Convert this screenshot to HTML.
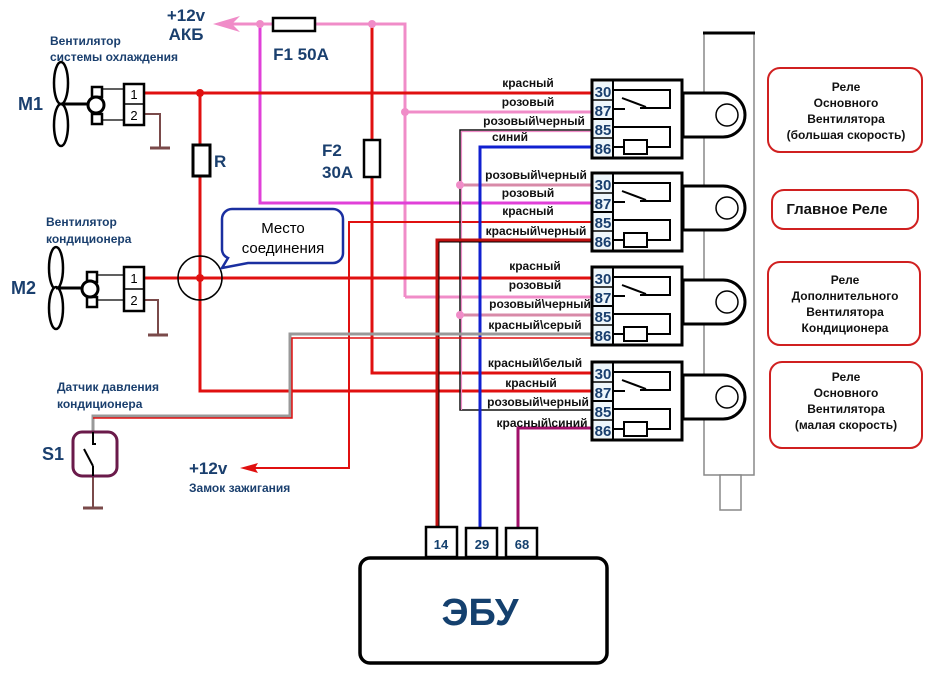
<!DOCTYPE html>
<html><head><meta charset="utf-8"><style>
body{margin:0;background:#fff}
svg{display:block;font-family:"Liberation Sans",sans-serif}
.wl{font-size:12px;font-weight:bold;fill:#111;text-anchor:middle}
.bl{fill:#1a3f6e;font-weight:bold}
</style></head><body>
<svg width="946" height="692" viewBox="0 0 946 692">
<defs>
<g id="relay">
 <rect x="592" y="0" width="90" height="78" fill="#fff" stroke="#000" stroke-width="3"/>
 <rect x="594" y="2" width="18" height="74" fill="#eef6fb"/>
 <line x1="613" y1="0" x2="613" y2="78" stroke="#000" stroke-width="2"/>
 <line x1="592" y1="20" x2="613" y2="20" stroke="#000" stroke-width="1.5"/>
 <line x1="592" y1="39" x2="613" y2="39" stroke="#000" stroke-width="2"/>
 <line x1="592" y1="58" x2="613" y2="58" stroke="#000" stroke-width="1.5"/>
 <text x="603" y="17" font-size="15" font-weight="bold" fill="#1a3f6e" text-anchor="middle">30</text>
 <text x="603" y="36" font-size="15" font-weight="bold" fill="#1a3f6e" text-anchor="middle">87</text>
 <text x="603" y="55" font-size="15" font-weight="bold" fill="#1a3f6e" text-anchor="middle">85</text>
 <text x="603" y="74" font-size="15" font-weight="bold" fill="#1a3f6e" text-anchor="middle">86</text>
 <polyline points="613,10 670,10 670,28 640,28" fill="none" stroke="#000" stroke-width="2"/>
 <line x1="622" y1="18" x2="646" y2="27" stroke="#000" stroke-width="2"/>
 <line x1="613" y1="29" x2="625" y2="29" stroke="#000" stroke-width="2"/>
 <polyline points="613,47 670,47 670,67 647,67" fill="none" stroke="#000" stroke-width="2"/>
 <rect x="624" y="60" width="23" height="14" fill="#fff" stroke="#000" stroke-width="2"/>
 <line x1="613" y1="67" x2="624" y2="67" stroke="#000" stroke-width="2"/>
 <path d="M683,13 H723 A22,22 0 0 1 723,57 H683 Z" fill="#fff" stroke="#000" stroke-width="3"/>
 <circle cx="727" cy="35" r="11" fill="#fff" stroke="#000" stroke-width="1.5"/>
</g>
</defs>

<rect x="704" y="33" width="50" height="442" fill="#fff" stroke="#888" stroke-width="1.5"/>
<line x1="703" y1="33" x2="755" y2="33" stroke="#000" stroke-width="3"/>
<rect x="720" y="475" width="21" height="35" fill="#fff" stroke="#888" stroke-width="1.5"/>

<g fill="none" stroke-linejoin="miter">
 <polyline points="405,297 405,24 225,24" stroke="#f08cc8" stroke-width="3"/>
 <polygon points="213,24 240,16 232,24 240,32" fill="#f08cc8" stroke="none"/>
 <line x1="405" y1="112" x2="592" y2="112" stroke="#f08cc8" stroke-width="3"/>
 <line x1="405" y1="297" x2="592" y2="297" stroke="#f08cc8" stroke-width="3"/>
 <polyline points="260,24 260,203 592,203" stroke="#e040d8" stroke-width="3"/>
 <polyline points="372,24 372,373 592,373" stroke="#e01010" stroke-width="3"/>
 <line x1="143" y1="93" x2="592" y2="93" stroke="#e01010" stroke-width="3"/>
 <line x1="143" y1="278" x2="592" y2="278" stroke="#e01010" stroke-width="3"/>
 <polyline points="200,93 200,391 592,391" stroke="#e01010" stroke-width="3"/>
 <polyline points="592,222 349,222 349,468 250,468" stroke="#e01010" stroke-width="2"/>
 <polygon points="240,468 258,463 255,468 258,473" fill="#e01010"/>
 <polyline points="592,130 460,130 460,410 592,410" stroke="#111" stroke-width="1.5"/>
 <polyline points="592,131.5 461.5,131.5 461.5,410" stroke="#f08cc8" stroke-width="1.2"/>
 <line x1="460" y1="185" x2="592" y2="185" stroke="#d88aa8" stroke-width="3"/>
 <line x1="460" y1="315" x2="592" y2="315" stroke="#d88aa8" stroke-width="3"/>
 <polyline points="592,147 480,147 480,527" stroke="#1020d0" stroke-width="3"/>
 <polyline points="592,240 437,240 437,527" stroke="#c01010" stroke-width="3"/>
 <polyline points="592,242 439,242 439,527" stroke="#000" stroke-width="1"/>
 <polyline points="592,428 518,428 518,527" stroke="#a0106a" stroke-width="3"/>
 <polyline points="93,432 93,416 290,416 290,334 592,334" stroke="#999" stroke-width="3"/>
 <polyline points="93,418 292,418 292,338 592,338" stroke="#e01010" stroke-width="1.5"/>
 <polyline points="143,114 160,114 160,148" stroke="#7a4a4a" stroke-width="2"/>
 <line x1="150" y1="148" x2="170" y2="148" stroke="#7a4a4a" stroke-width="3"/>
 <polyline points="143,300 158,300 158,335" stroke="#7a4a4a" stroke-width="2"/>
 <line x1="148" y1="335" x2="168" y2="335" stroke="#7a4a4a" stroke-width="3"/>
 <line x1="93" y1="476" x2="93" y2="508" stroke="#7a4a4a" stroke-width="2"/>
 <line x1="83" y1="508" x2="103" y2="508" stroke="#7a4a4a" stroke-width="3"/>
</g>
<g fill="#f08cc8"><circle cx="260" cy="24" r="4"/><circle cx="372" cy="24" r="4"/><circle cx="405" cy="112" r="4"/><circle cx="460" cy="185" r="4"/><circle cx="460" cy="315" r="4"/></g>
<g fill="#e01010"><circle cx="200" cy="93" r="4"/><circle cx="200" cy="278" r="4"/></g>

<rect x="273" y="18" width="42" height="13" fill="#fff" stroke="#000" stroke-width="2.5"/>
<rect x="364" y="140" width="16" height="37" fill="#fff" stroke="#000" stroke-width="2.5"/>
<rect x="193" y="145" width="17" height="31" fill="#fff" stroke="#000" stroke-width="3"/>
<circle cx="200" cy="278" r="22" fill="none" stroke="#000" stroke-width="1.5"/>

<use href="#relay" y="80"/>
<use href="#relay" y="173"/>
<use href="#relay" y="267"/>
<use href="#relay" y="362"/>

<g stroke="#000" fill="#fff">
 <ellipse cx="61" cy="83" rx="7" ry="21" stroke-width="2.5"/>
 <ellipse cx="61" cy="125" rx="7" ry="21" stroke-width="2.5"/>
 <line x1="61" y1="104" x2="90" y2="104" stroke-width="3"/>
 <line x1="100" y1="89" x2="124" y2="89" stroke-width="1.2"/>
 <line x1="100" y1="120" x2="124" y2="120" stroke-width="1.2"/>
 <rect x="92" y="87" width="10" height="10" stroke-width="2.5"/>
 <rect x="92" y="114" width="10" height="10" stroke-width="2.5"/>
 <circle cx="96" cy="105" r="8" stroke-width="3"/>
 <rect x="124" y="84" width="20" height="41" stroke-width="2.5"/>
 <line x1="124" y1="104" x2="144" y2="104" stroke-width="1.5"/>
 <ellipse cx="56" cy="268" rx="7" ry="21" stroke-width="2.5"/>
 <ellipse cx="56" cy="308" rx="7" ry="21" stroke-width="2.5"/>
 <line x1="56" y1="288" x2="85" y2="288" stroke-width="3"/>
 <line x1="95" y1="275" x2="124" y2="275" stroke-width="1.2"/>
 <line x1="95" y1="300" x2="124" y2="300" stroke-width="1.2"/>
 <rect x="87" y="272" width="10" height="10" stroke-width="2.5"/>
 <rect x="87" y="297" width="10" height="10" stroke-width="2.5"/>
 <circle cx="90" cy="289" r="8" stroke-width="3"/>
 <rect x="124" y="267" width="20" height="44" stroke-width="2.5"/>
 <line x1="124" y1="289" x2="144" y2="289" stroke-width="1.5"/>
</g>
<g font-size="13" text-anchor="middle" fill="#000">
 <text x="134" y="99">1</text><text x="134" y="120">2</text>
 <text x="134" y="283">1</text><text x="134" y="305">2</text>
</g>

<rect x="73" y="432" width="44" height="44" rx="9" fill="#fff" stroke="#6a1a4a" stroke-width="3"/>
<polyline points="93,432 93,444 96,444" fill="none" stroke="#000" stroke-width="2"/>
<line x1="84" y1="449" x2="93" y2="466" stroke="#000" stroke-width="2"/>
<line x1="93" y1="466" x2="93" y2="476" stroke="#000" stroke-width="2"/>

<path d="M232,209 H333 A10,10 0 0 1 343,219 V253 A10,10 0 0 1 333,263 H248 L222,268 L228,258 A10,10 0 0 1 222,250 V219 A10,10 0 0 1 232,209 Z" fill="#fff" stroke="#1a2fa0" stroke-width="2.5"/>
<text x="283" y="233" font-size="15" text-anchor="middle">Место</text>
<text x="283" y="253" font-size="15" text-anchor="middle">соединения</text>

<rect x="360" y="558" width="247" height="105" rx="10" fill="#fff" stroke="#000" stroke-width="3.5"/>
<text x="480" y="625" font-size="38" font-weight="bold" fill="#14406e" text-anchor="middle">ЭБУ</text>
<g fill="#fff" stroke="#000" stroke-width="2.5">
 <rect x="426" y="527" width="31" height="30"/><rect x="466" y="528" width="31" height="29"/><rect x="506" y="528" width="31" height="29"/>
</g>
<g font-size="13" font-weight="bold" fill="#14406e" text-anchor="middle">
 <text x="441" y="549">14</text><text x="482" y="549">29</text><text x="522" y="549">68</text>
</g>

<text x="186" y="21" font-size="17" class="bl" text-anchor="middle">+12v</text>
<text x="186" y="40" font-size="17" class="bl" text-anchor="middle">АКБ</text>
<text x="301" y="60" font-size="17" class="bl" text-anchor="middle">F1 50A</text>
<text x="322" y="156" font-size="17" class="bl">F2</text>
<text x="322" y="178" font-size="17" class="bl">30A</text>
<text x="214" y="167" font-size="17" class="bl">R</text>
<text x="18" y="110" font-size="18" class="bl">M1</text>
<text x="11" y="294" font-size="18" class="bl">M2</text>
<text x="42" y="460" font-size="18" class="bl">S1</text>
<text x="50" y="45" font-size="12" class="bl">Вентилятор</text>
<text x="50" y="61" font-size="12" class="bl">системы охлаждения</text>
<text x="46" y="226" font-size="12" class="bl">Вентилятор</text>
<text x="46" y="243" font-size="12" class="bl">кондиционера</text>
<text x="57" y="391" font-size="12" class="bl">Датчик давления</text>
<text x="57" y="408" font-size="12" class="bl">кондиционера</text>
<text x="189" y="474" font-size="17" class="bl">+12v</text>
<text x="189" y="492" font-size="12" class="bl">Замок зажигания</text>

<g class="wl">
 <text x="528" y="87">красный</text>
 <text x="528" y="106">розовый</text>
 <text x="534" y="125">розовый\черный</text>
 <text x="510" y="141">синий</text>
 <text x="536" y="179">розовый\черный</text>
 <text x="528" y="197">розовый</text>
 <text x="528" y="215">красный</text>
 <text x="536" y="235">красный\черный</text>
 <text x="535" y="270">красный</text>
 <text x="535" y="289">розовый</text>
 <text x="540" y="308">розовый\черный</text>
 <text x="535" y="329">красный\серый</text>
 <text x="535" y="367">красный\белый</text>
 <text x="531" y="387">красный</text>
 <text x="538" y="406">розовый\черный</text>
 <text x="542" y="427">красный\синий</text>
</g>

<g fill="#fff" stroke="#d02020" stroke-width="2">
 <rect x="768" y="68" width="154" height="84" rx="12"/>
 <rect x="772" y="190" width="146" height="39" rx="12"/>
 <rect x="768" y="262" width="152" height="83" rx="12"/>
 <rect x="770" y="362" width="152" height="86" rx="12"/>
</g>
<g font-size="12" font-weight="bold" fill="#111" text-anchor="middle">
 <text x="846" y="91">Реле</text><text x="846" y="107">Основного</text><text x="846" y="123">Вентилятора</text><text x="846" y="139">(большая скорость)</text>
 <text x="845" y="284">Реле</text><text x="845" y="300">Дополнительного</text><text x="845" y="316">Вентилятора</text><text x="845" y="332">Кондиционера</text>
 <text x="846" y="381">Реле</text><text x="846" y="397">Основного</text><text x="846" y="413">Вентилятора</text><text x="846" y="429">(малая скорость)</text>
</g>
<text x="837" y="214" font-size="15" font-weight="bold" fill="#111" text-anchor="middle">Главное Реле</text>
</svg>
</body></html>
